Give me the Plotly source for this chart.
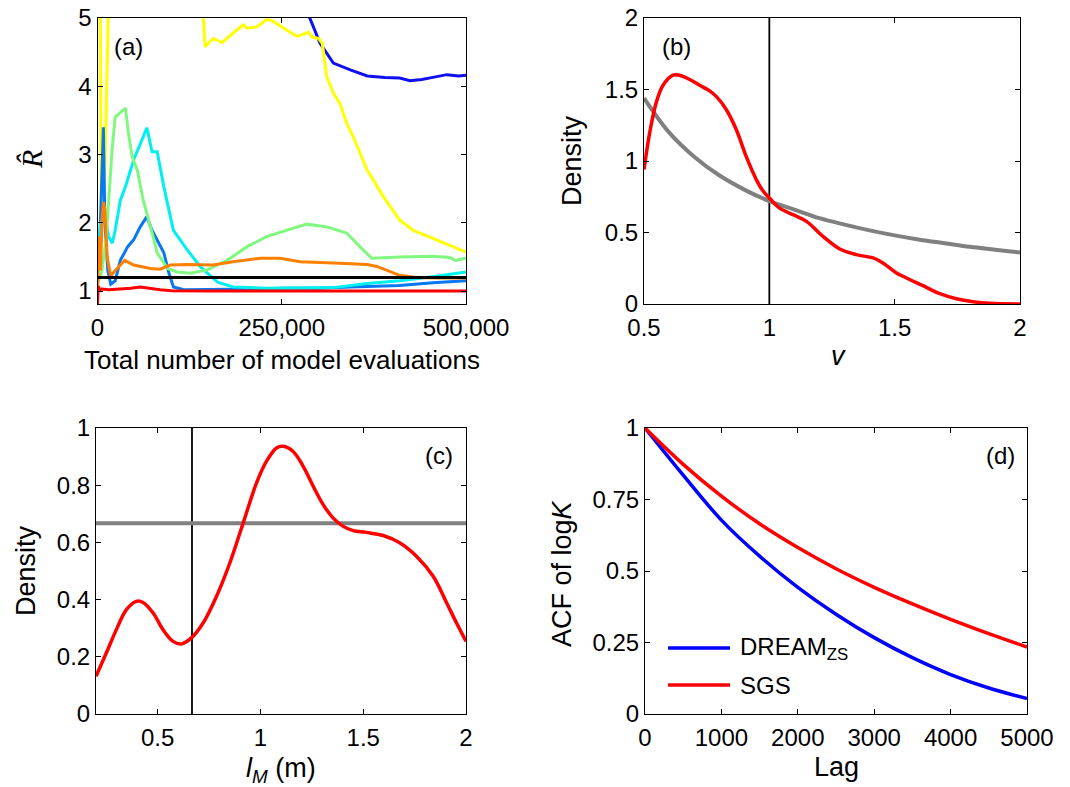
import plotly.graph_objects as go

# page is drawn with an 8px body margin; work in page pixels and convert
OX, OY = 8, 8
W, H = 1070 - OX, 787 - OY
FONT = "Liberation Sans, Arial, Helvetica, sans-serif"

# ---------------- Panel (a): R-hat convergence ----------------
blue_x = [0, 100e3, 200e3, 270e3, 288e3, 302e3, 320e3, 343e3, 366e3, 390e3, 410e3, 424e3, 440e3, 455e3, 474e3, 490e3, 500e3]
blue_y = [9, 9, 7, 5.4, 5.0, 4.63, 4.34, 4.24, 4.15, 4.13, 4.12, 4.08, 4.10, 4.13, 4.17, 4.15, 4.16]

yellow_x = [0, 2.5e3, 5e3, 9e3, 15e3, 20e3, 60e3, 120e3, 138e3, 142e3, 146e3, 157e3, 169e3, 184e3, 198e3, 203e3,
            216e3, 230e3, 237e3, 257e3, 271e3, 286e3, 291e3, 300e3, 305e3, 311e3, 320e3, 329e3, 338e3, 347e3,
            356e3, 366e3, 374e3, 388e3, 410e3, 428e3, 455e3, 478e3, 500e3]
yellow_y = [9, 9, 2.1, 2.3, 5.2, 8, 9, 8, 6, 5.3, 4.58, 4.70, 4.64, 4.78, 4.90, 4.85,
            4.87, 4.98, 4.96, 4.82, 4.73, 4.79, 4.72, 4.70, 4.63, 4.14, 3.90, 3.75, 3.46, 3.26,
            3.02, 2.77, 2.63, 2.38, 2.04, 1.89, 1.77, 1.67, 1.57]

dodger_x = [0, 4e3, 8e3, 10e3, 14e3, 18e3, 24e3, 31e3, 41e3, 49e3, 58e3, 67e3, 74e3, 81e3, 90e3, 97e3, 103e3,
            117e3, 150e3, 184e3, 220e3, 251e3, 300e3, 343e3, 380e3, 410e3, 455e3, 500e3]
dodger_y = [1.3, 2.0, 3.4, 2.0, 1.3, 1.10, 1.15, 1.45, 1.65, 1.75, 1.94, 2.09, 1.89, 1.75, 1.56, 1.26, 1.06,
            1.02, 1.02, 1.02, 1.03, 1.04, 1.04, 1.06, 1.07, 1.08, 1.12, 1.15]

cyan_x = [0, 4e3, 10e3, 15e3, 20e3, 24e3, 31e3, 38e3, 49e3, 58e3, 67e3, 74e3, 81e3, 90e3, 103e3, 122e3, 140e3,
          163e3, 184e3, 230e3, 298e3, 320e3, 366e3, 410e3, 455e3, 500e3]
cyan_y = [1.2, 2.0, 2.1, 1.80, 1.70, 1.89, 2.33, 2.53, 2.92, 3.16, 3.39, 3.04, 3.04, 2.53, 1.89, 1.60, 1.35,
          1.13, 1.06, 1.04, 1.04, 1.05, 1.11, 1.15, 1.21, 1.28]

green_x = [0, 6e3, 12e3, 17e3, 20e3, 24e3, 31e3, 38e3, 42e3, 47e3, 54e3, 62e3, 72e3, 81e3, 95e3, 108e3, 126e3,
           149e3, 176e3, 203e3, 230e3, 257e3, 284e3, 311e3, 338e3, 356e3, 372e3, 410e3, 455e3, 478e3, 486e3, 500e3]
green_y = [1.1, 1.3, 1.8, 2.6, 3.1, 3.55, 3.62, 3.68, 3.31, 2.97, 2.77, 2.33, 1.94, 1.56, 1.33, 1.28, 1.26,
           1.31, 1.45, 1.65, 1.80, 1.89, 1.98, 1.94, 1.85, 1.65, 1.48, 1.50, 1.51, 1.49, 1.45, 1.48]

orange_x = [0, 2e3, 4e3, 6e3, 8e3, 10e3, 13e3, 18e3, 24e3, 37e3, 49e3, 72e3, 85e3, 99e3, 122e3, 157e3, 184e3,
            221e3, 248e3, 275e3, 320e3, 366e3, 379e3, 410e3, 433e3, 460e3, 500e3]
orange_y = [0.9, 1.8, 1.3, 2.0, 2.3, 2.2, 1.5, 1.22, 1.30, 1.45, 1.38, 1.33, 1.32, 1.38, 1.39, 1.38, 1.43,
            1.48, 1.48, 1.43, 1.41, 1.39, 1.36, 1.23, 1.20, 1.19, 1.19]

red_x = [0, 1e3, 3e3, 6e3, 15e3, 30e3, 45e3, 58e3, 70e3, 85e3, 100e3, 150e3, 300e3, 500e3]
red_y = [0.8, 1.07, 1.02, 1.03, 1.02, 1.03, 1.04, 1.06, 1.04, 1.02, 1.005, 1.0, 1.0, 1.0]

rhat_threshold = 1.2
a_xticks = [0, 250000, 500000]
a_xticklabels = ["0", "250,000", "500,000"]
a_yticks = [1, 2, 3, 4, 5]

# ---------------- Panel (b): density of v ----------------
b_post_x = [0.5, 0.523, 0.549, 0.576, 0.616, 0.642, 0.682, 0.722, 0.762, 0.789, 0.828, 0.868, 0.908, 0.948,
            0.975, 1.001, 1.041, 1.094, 1.148, 1.214, 1.281, 1.347, 1.414, 1.453, 1.507, 1.547, 1.613, 1.680,
            1.746, 1.813, 1.879, 2.0]
b_post_y = [0.94, 1.20, 1.41, 1.53, 1.60, 1.60, 1.57, 1.53, 1.49, 1.45, 1.36, 1.22, 1.03, 0.87,
            0.79, 0.74, 0.67, 0.625, 0.578, 0.473, 0.385, 0.345, 0.322, 0.287, 0.217, 0.182, 0.128, 0.072,
            0.037, 0.016, 0.005, 0.0]
b_prior_x = [0.5, 0.6, 0.7, 0.8, 0.9, 1.0, 1.1, 1.2, 1.3, 1.4, 1.5, 1.6, 1.7, 1.8, 1.9, 2.0]
b_prior_y = [1.44, 1.20, 1.03, 0.90, 0.80, 0.72, 0.66, 0.60, 0.555, 0.515, 0.48, 0.45, 0.425, 0.40, 0.38, 0.36]
b_true = 1.0
b_xticks = [0.5, 1, 1.5, 2]
b_yticks = [0, 0.5, 1, 1.5, 2]

# ---------------- Panel (c): density of l_M ----------------
c_post_x = [0.2, 0.25, 0.299, 0.348, 0.396, 0.429, 0.478, 0.526, 0.575, 0.615, 0.664, 0.721, 0.786, 0.851,
            0.916, 0.981, 1.029, 1.078, 1.110, 1.159, 1.208, 1.257, 1.305, 1.354, 1.403, 1.451, 1.516, 1.597,
            1.679, 1.760, 1.841, 1.906, 1.954, 2.0]
c_post_y = [0.132, 0.213, 0.295, 0.365, 0.394, 0.390, 0.353, 0.295, 0.254, 0.245, 0.266, 0.318, 0.411, 0.528,
            0.668, 0.808, 0.883, 0.930, 0.936, 0.918, 0.866, 0.796, 0.732, 0.685, 0.656, 0.641, 0.635, 0.624,
            0.598, 0.551, 0.481, 0.388, 0.318, 0.254]
c_prior_x = [0.2, 2.0]
c_prior_y = [0.667, 0.667]
c_true = 0.667
c_xticks = [0.5, 1, 1.5, 2]
c_yticks = [0, 0.2, 0.4, 0.6, 0.8, 1]

# ---------------- Panel (d): ACF of log K ----------------
d_lag = [0, 500, 1000, 1500, 2000, 2500, 3000, 3500, 4000, 4500, 5000]
d_dream = [1.0, 0.835, 0.678, 0.552, 0.443, 0.349, 0.267, 0.197, 0.138, 0.091, 0.054]
d_sgs = [1.0, 0.873, 0.762, 0.665, 0.582, 0.508, 0.443, 0.385, 0.331, 0.281, 0.234]
d_xticks = [0, 1000, 2000, 3000, 4000, 5000]
d_yticks = [0, 0.25, 0.5, 0.75, 1]

# ---------------- figure ----------------
fig = go.Figure()

def px2x(px):
    return (px - OX) / W

def py2y(py):
    return 1 - (py - OY) / H

def xd(p0, p1):
    return [px2x(p0), px2x(p1)]

def yd(p0, p1):
    return [py2y(p1), py2y(p0)]

chains = [
    (blue_x, blue_y, "#1010ee"),
    (yellow_x, yellow_y, "#ffff00"),
    (dodger_x, dodger_y, "#0a78f0"),
    (cyan_x, cyan_y, "#00f0f0"),
    (green_x, green_y, "#80f880"),
    (orange_x, orange_y, "#ff8000"),
    (red_x, red_y, "#ff0000"),
]
for xs, ys, col in chains:
    fig.add_trace(go.Scatter(x=xs, y=ys, mode="lines", line=dict(color=col, width=3),
                             xaxis="x", yaxis="y", showlegend=False))
fig.add_trace(go.Scatter(x=[a_xticks[0], a_xticks[-1]], y=[rhat_threshold, rhat_threshold], mode="lines",
                         line=dict(color="black", width=3), xaxis="x", yaxis="y", showlegend=False))

# (b)
fig.add_trace(go.Scatter(x=[b_true, b_true], y=[b_yticks[0], b_yticks[-1]], mode="lines",
                         line=dict(color="black", width=1.8), xaxis="x2", yaxis="y2", showlegend=False))
fig.add_trace(go.Scatter(x=b_prior_x, y=b_prior_y, mode="lines", line=dict(color="#808080", width=4, shape="spline"),
                         xaxis="x2", yaxis="y2", showlegend=False))
fig.add_trace(go.Scatter(x=b_post_x, y=b_post_y, mode="lines", line=dict(color="#ff0000", width=3.5, shape="spline"),
                         xaxis="x2", yaxis="y2", showlegend=False))

# (c)
fig.add_trace(go.Scatter(x=[c_true, c_true], y=[c_yticks[0], c_yticks[-1]], mode="lines",
                         line=dict(color="black", width=1.8), xaxis="x3", yaxis="y3", showlegend=False))
fig.add_trace(go.Scatter(x=c_prior_x, y=c_prior_y, mode="lines", line=dict(color="#808080", width=4),
                         xaxis="x3", yaxis="y3", showlegend=False))
fig.add_trace(go.Scatter(x=c_post_x, y=c_post_y, mode="lines", line=dict(color="#ff0000", width=3.5, shape="spline"),
                         xaxis="x3", yaxis="y3", showlegend=False))

# (d)
fig.add_trace(go.Scatter(x=d_lag, y=d_dream, mode="lines", line=dict(color="#0000ff", width=3.5, shape="spline"),
                         xaxis="x4", yaxis="y4", showlegend=False))
fig.add_trace(go.Scatter(x=d_lag, y=d_sgs, mode="lines", line=dict(color="#ff0000", width=3.5, shape="spline"),
                         xaxis="x4", yaxis="y4", showlegend=False))

tickfont = dict(family=FONT, size=24, color="black")
common = dict(showline=True, linecolor="black", linewidth=1, mirror="ticks", ticks="inside", ticklen=5,
              tickcolor="black", tickwidth=1, showgrid=False, zeroline=False, tickfont=tickfont,
              automargin=False, ticklabeloverflow="allow")
xcommon = dict(common, ticklabelstandoff=2)

fig.update_layout(
    width=W, height=H, autosize=False,
    margin=dict(l=0, r=0, t=0, b=0),
    paper_bgcolor="white", plot_bgcolor="white",
    xaxis=dict(domain=xd(97.5, 466), range=[0, 500000], tickvals=a_xticks, ticktext=a_xticklabels,
               anchor="y", **xcommon),
    yaxis=dict(domain=yd(18, 304), range=[0.81, 5], tickvals=a_yticks, anchor="x", **common),
    xaxis2=dict(domain=xd(644, 1020), range=[0.5, 2], tickvals=b_xticks, anchor="y2", **xcommon),
    yaxis2=dict(domain=yd(18, 304), range=[0, 2], tickvals=b_yticks, anchor="x2", **common),
    xaxis3=dict(domain=xd(96, 466), range=[0.2, 2], tickvals=c_xticks, anchor="y3", **xcommon),
    yaxis3=dict(domain=yd(428, 714), range=[0, 1], tickvals=c_yticks, anchor="x3", **common),
    xaxis4=dict(domain=xd(645, 1027), range=[0, 5000], tickvals=d_xticks, anchor="y4", **xcommon),
    yaxis4=dict(domain=yd(428, 714), range=[0, 1], tickvals=d_yticks, anchor="x4", **common),
)

def ann(text, px, py, size=27, angle=0, xanchor="center", yanchor="middle", family=FONT):
    fig.add_annotation(text=text, x=px2x(px), y=py2y(py), xref="paper", yref="paper", showarrow=False,
                       font=dict(family=family, size=size, color="black"), textangle=angle,
                       xanchor=xanchor, yanchor=yanchor)

# axis titles
ann("Total number of model evaluations", 282, 360, size=26)
ann("<i>R\u0302</i>", 32, 160, size=30, angle=-90, family="Liberation Serif, Times New Roman, serif")
ann("Density", 572, 161, angle=-90)
ann("<i>v</i>", 838, 356)
ann("Density", 26, 571, angle=-90)
ann("<i>l<sub>M</sub></i> (m)", 281, 770)
ann("ACF of log<i>K</i>", 562, 574, angle=-90)
ann("Lag", 836, 767)

# panel labels
ann("(a)", 128, 46, size=24)
ann("(b)", 676, 46, size=24)
ann("(c)", 439, 455, size=24)
ann("(d)", 1000, 455, size=24)

# legend for (d)
for py, col in [(648, "#0000ff"), (685, "#ff0000")]:
    fig.add_shape(type="line", xref="paper", yref="paper", x0=px2x(668), x1=px2x(730), y0=py2y(py), y1=py2y(py),
                  line=dict(color=col, width=3.5))
ann("DREAM<sub>ZS</sub>", 738, 648, size=24, xanchor="left")
ann("SGS", 738, 685, size=24, xanchor="left")

fig.write_html("out.html")
